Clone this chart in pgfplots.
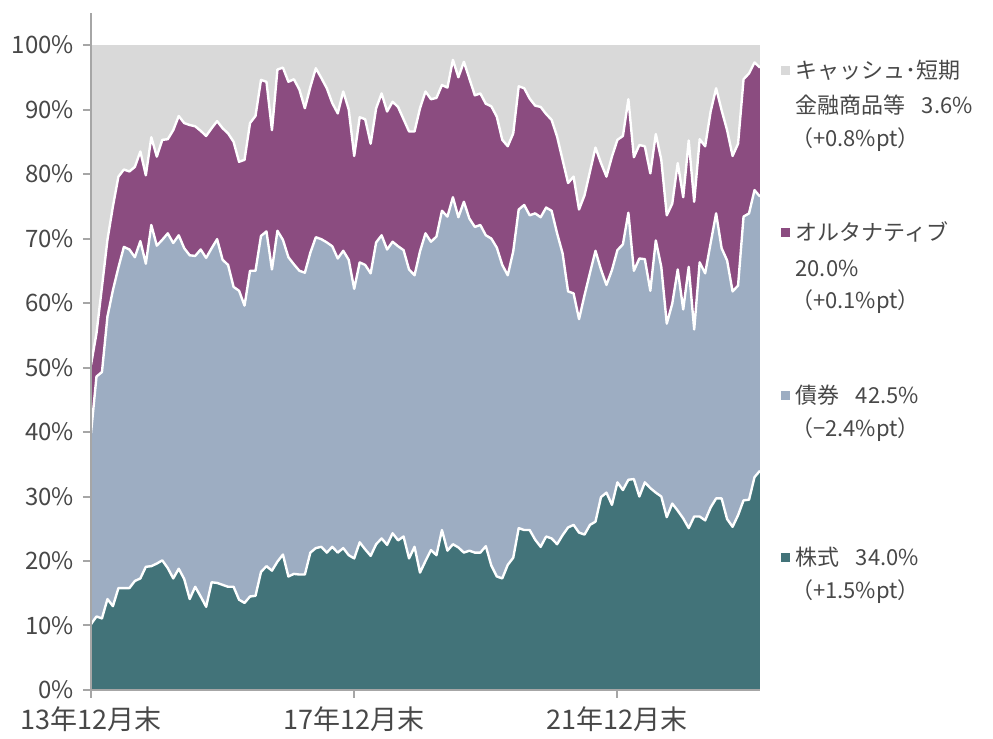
\documentclass[border=0pt]{standalone}
\usepackage{fontspec}
\setmainfont{Noto Sans CJK JP}
\usepackage{pgfplots}
\usepackage{pgfplotstable}
\pgfplotsset{compat=1.18}
\definecolor{cstock}{RGB}{66,115,121}
\definecolor{cbond}{RGB}{157,173,194}
\definecolor{calt}{RGB}{139,76,128}
\definecolor{ccash}{RGB}{217,217,217}
\definecolor{ctext}{RGB}{72,72,72}
\definecolor{caxis}{RGB}{166,166,166}
% cumulative boundaries: S = stocks, M = stocks+bonds, T = stocks+bonds+alternatives
\pgfplotstableread{
i S M T
0 10.2 39.8 50.4
1 11.4 48.6 55.3
2 11.1 49.3 62.5
3 14.1 57.9 69.8
4 13.0 62.0 75.0
5 15.8 65.5 79.6
6 15.8 68.7 80.7
7 15.8 68.3 80.4
8 16.9 67.1 81.1
9 17.3 69.6 83.5
10 19.1 66.1 79.8
11 19.2 72.1 85.7
12 19.6 68.9 82.7
13 20.1 69.8 85.3
14 18.9 70.8 85.4
15 17.3 69.3 86.8
16 18.8 70.5 89.0
17 17.2 68.5 87.9
18 14.1 67.4 87.6
19 16.0 67.3 87.4
20 14.5 68.3 86.7
21 12.9 67.0 85.9
22 16.7 68.5 87.1
23 16.6 69.9 88.2
24 16.3 66.7 87.1
25 16.0 65.9 86.3
26 16.0 62.5 85.0
27 14.0 61.9 81.9
28 13.5 59.6 82.2
29 14.5 65.0 87.9
30 14.6 65.0 89.0
31 18.3 70.4 94.6
32 19.2 71.1 94.3
33 18.5 65.2 86.8
34 19.9 71.2 96.2
35 21.0 69.8 96.5
36 17.6 67.1 94.3
37 18.0 66.0 94.7
38 17.9 65.0 93.1
39 17.9 64.7 90.2
40 21.3 67.8 93.5
41 22.0 70.2 96.4
42 22.2 69.9 94.9
43 21.3 69.4 93.3
44 22.2 68.8 91.0
45 21.3 66.9 89.4
46 22.0 68.1 92.8
47 20.9 66.7 90.0
48 20.4 62.2 82.8
49 22.9 66.3 88.8
50 21.8 65.9 88.5
51 20.8 64.6 84.7
52 22.6 69.4 90.2
53 23.5 70.5 92.5
54 22.5 68.3 89.7
55 24.3 69.5 91.2
56 23.2 68.8 90.4
57 23.8 68.2 88.5
58 20.4 65.2 86.6
59 22.2 64.3 86.6
60 18.2 68.0 90.2
61 20.0 70.8 92.8
62 21.7 69.5 91.6
63 20.9 70.3 91.8
64 24.8 74.3 93.8
65 21.6 73.4 93.4
66 22.6 76.4 97.7
67 22.1 73.3 95.0
68 21.3 75.7 97.4
69 21.6 73.1 94.8
70 21.3 71.8 92.2
71 21.3 72.1 92.5
72 22.3 70.5 90.9
73 19.3 70.0 90.5
74 17.6 68.6 88.9
75 17.3 65.9 85.3
76 19.4 64.3 84.3
77 20.5 68.0 86.3
78 25.1 74.5 93.6
79 24.8 75.2 93.3
80 24.8 73.6 91.7
81 23.3 73.9 90.6
82 22.2 73.3 90.4
83 23.8 74.8 89.3
84 23.5 74.3 88.4
85 22.6 70.8 85.8
86 24.0 67.7 82.2
87 25.2 61.8 78.6
88 25.6 61.5 79.6
89 24.4 57.5 74.5
90 24.1 61.2 76.7
91 25.6 64.7 80.4
92 26.1 68.1 84.1
93 29.9 65.2 81.7
94 30.6 62.8 79.6
95 28.7 65.1 82.7
96 32.2 68.2 85.3
97 31.0 69.1 85.9
98 32.6 74.0 91.6
99 32.7 65.0 82.6
100 30.0 66.9 84.5
101 32.2 66.8 84.3
102 31.3 61.9 80.1
103 30.6 69.7 86.2
104 30.0 65.6 82.2
105 26.8 56.8 73.6
106 28.9 59.9 75.4
107 27.8 65.2 81.7
108 26.6 59.0 76.4
109 25.1 65.6 85.2
110 26.9 55.9 75.7
111 26.9 66.3 85.4
112 26.3 64.6 84.3
113 28.3 69.3 89.7
114 29.7 73.9 93.3
115 29.7 68.5 89.9
116 26.5 66.6 86.8
117 25.3 61.8 82.8
118 27.1 62.7 84.7
119 29.4 73.4 94.7
120 29.5 73.9 95.6
121 33.0 77.5 97.3
122 34.0 76.5 96.5
}\datatable
\begin{document}
\begin{tikzpicture}
\begin{axis}[
  name=ax,
  scale only axis,
  width=334.5pt, height=338.6pt,
  xmin=0, xmax=122, ymin=0, ymax=105,
  axis x line*=bottom, axis y line*=left,
  axis line style={caxis, line width=1pt},
  axis on top,
  clip=false,
  xtick={0,48,96},
  xticklabels={13年12月末,17年12月末,21年12月末},
  ytick={0,10,...,100},
  yticklabels={0\%,10\%,20\%,30\%,40\%,50\%,60\%,70\%,80\%,90\%,100\%},
  tick align=outside,
  major tick length=4pt,
  tick style={caxis, line width=1pt},
  tick label style={font=\fontsize{12}{14}\selectfont, text=ctext},
  yticklabel style={xshift=-1pt},
  xticklabel style={yshift=-1pt, font=\fontsize{13.5}{15}\selectfont},
]
\addplot[fill=ccash, draw=none] coordinates {(0,100) (122,100)} \closedcycle;
\addplot[fill=calt, draw=none] table[x=i, y=T] {\datatable} \closedcycle;
\addplot[fill=cbond, draw=none] table[x=i, y=M] {\datatable} \closedcycle;
\addplot[fill=cstock, draw=none] table[x=i, y=S] {\datatable} \closedcycle;
\addplot[white, line width=1.2pt, line join=round] table[x=i, y=T] {\datatable};
\addplot[white, line width=1.2pt, line join=round] table[x=i, y=M] {\datatable};
\addplot[white, line width=1.2pt, line join=round] table[x=i, y=S] {\datatable};
% legend-like labels
\begin{scope}[every node/.style={font=\fontsize{11}{13}\selectfont, text=ctext, anchor=west, inner sep=0pt}]
\node[fill=ccash, minimum size=4.5pt] at (axis cs:125.8,96.1) {};
\node at (axis cs:128.4,96.1) {キャッシュ･短期};
\node at (axis cs:128.4,90.7) {金融商品等\hspace{0.75em}3.6\%};
\node at (axis cs:127.6,85.3) {（+0.8\%pt）};
\node[fill=calt, minimum size=4.5pt] at (axis cs:125.8,71.0) {};
\node at (axis cs:128.4,71.0) {オルタナティブ};
\node at (axis cs:128.4,65.4) {20.0\%};
\node at (axis cs:127.6,60.2) {（+0.1\%pt）};
\node[fill=cbond, minimum size=4.5pt] at (axis cs:125.8,45.7) {};
\node at (axis cs:128.4,45.7) {債券\hspace{0.75em}42.5\%};
\node at (axis cs:127.6,40.3) {（−2.4\%pt）};
\node[fill=cstock, minimum size=4.5pt] at (axis cs:125.8,20.6) {};
\node at (axis cs:128.4,20.6) {株式\hspace{0.75em}34.0\%};
\node at (axis cs:127.6,15.2) {（+1.5\%pt）};
\end{scope}
\end{axis}
\path (ax.south west) ++(-45.5pt,-23pt) rectangle ++(496.5pt,368pt);
\end{tikzpicture}
\end{document}
